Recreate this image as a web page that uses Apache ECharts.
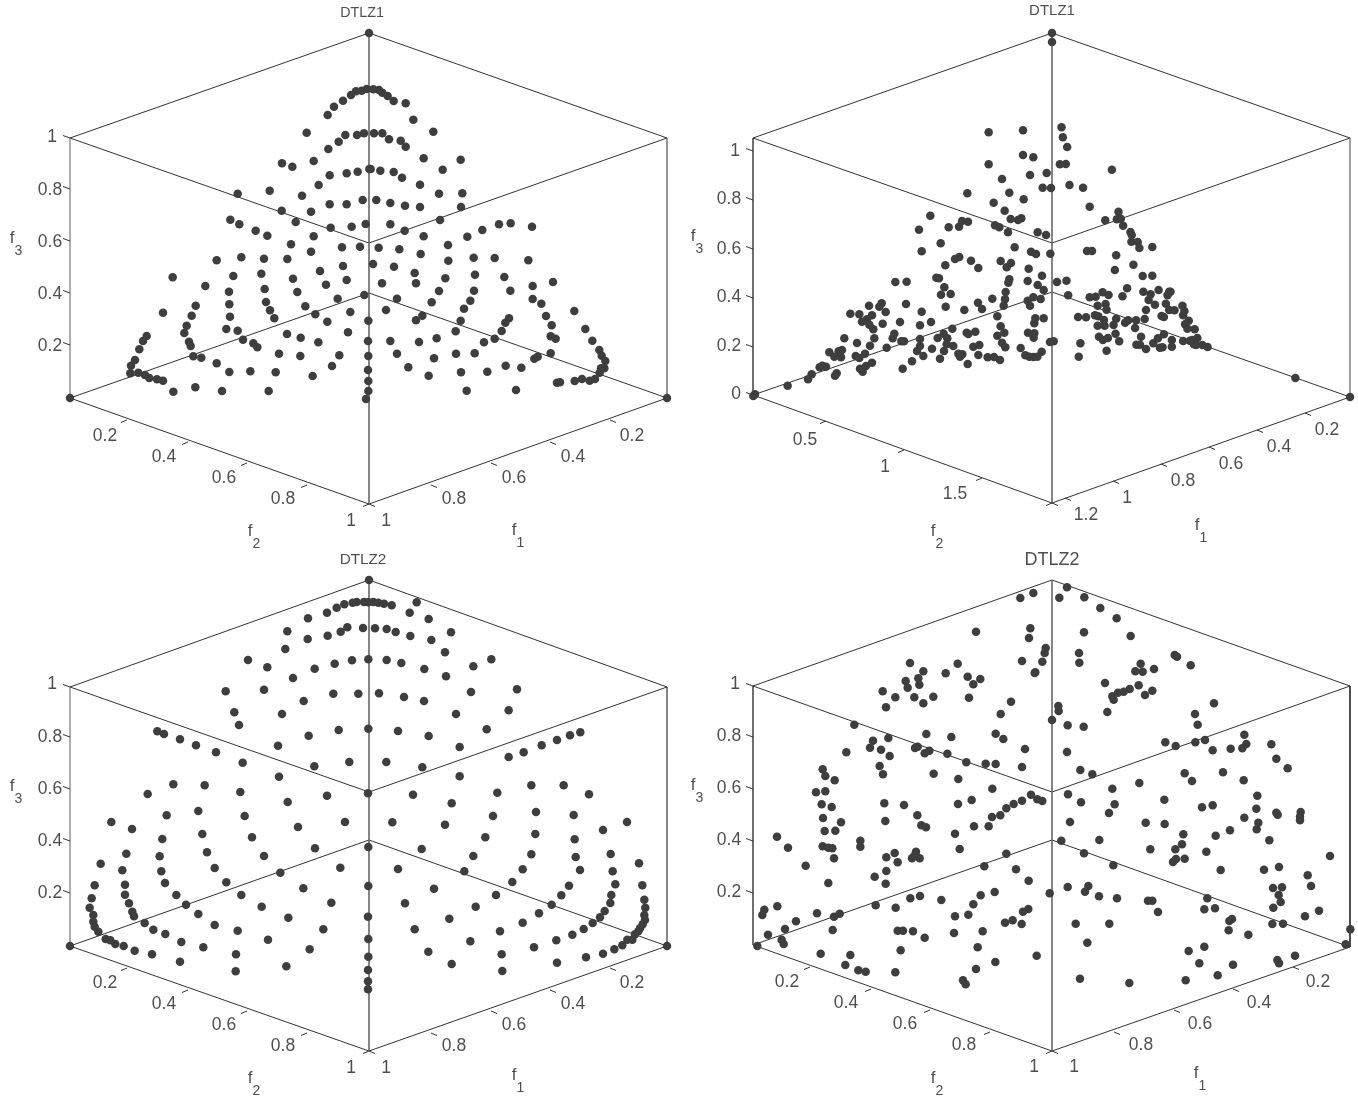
<!DOCTYPE html>
<html><head><meta charset="utf-8">
<style>html,body{margin:0;padding:0;background:#fff}#c{width:1358px;height:1098px}</style>
<script src="https://cdn.jsdelivr.net/npm/echarts@6/dist/echarts.min.js"></script>
</head><body><div id="c"></div>
<script>
// Projected point positions, in each half-panel's own plot units.
const dtlz1A_left=[[803,135],[822,110],[849,92],[873,75],[888,64],[905,62],[920,57],[740,188],[805,237],[836,215],[856,195],[891,195],[912,190],[666,280],[697,290],[761,273],[776,345],[809,316],[860,310],[893,305],[928,297],[533,371],[629,362],[726,377],[809,403],[860,403],[908,390],[665,422],[753,425],[707,456],[812,473],[875,470],[917,462],[511,449],[538,463],[587,482],[622,497],[761,499],[693,523],[846,532],[900,530],[470,571],[544,562],[612,566],[682,567],[753,545],[520,618],[604,611],[699,626],[780,603],[849,588],[338,622],[436,648],[507,665],[614,657],[712,666],[798,644],[860,630],[407,707],[508,703],[618,696],[736,709],[833,686],[913,675],[395,737],[510,740],[630,721],[643,745],[766,733],[871,726],[309,728],[380,767],[499,777],[533,782],[802,755],[925,752],[373,789],[681,792],[722,803],[864,787],[249,813],[260,798],[238,838],[387,815],[392,828],[549,809],[580,820],[592,832],[775,817],[924,813],[225,870],[213,887],[400,859],[424,863],[657,851],[721,858],[838,856],[925,858],[211,910],[235,908],[255,915],[268,924],[291,928],[309,932],[470,880],[508,906],[571,904],[647,907],[758,918],[816,888],[924,900],[340,965],[406,952],[486,963],[626,963],[925,933],[925,963],[918,987]];
const dtlz1A_right=[[25,58],[42,60],[52,68],[68,78],[86,93],[122,100],[145,149],[205,185],[27,190],[52,190],[72,208],[107,212],[122,230],[176,265],[287,269],[17,297],[46,302],[86,306],[111,323],[165,344],[233,299],[222,371],[292,370],[34,390],[76,399],[120,407],[165,411],[288,411],[225,450],[76,463],[119,482],[176,499],[307,500],[352,480],[402,463],[437,460],[501,470],[41,533],[103,538],[167,552],[249,525],[250,572],[326,563],[389,564],[490,571],[24,582],[87,590],[149,609],[241,625],[330,614],[418,621],[564,636],[51,640],[153,640],[222,663],[327,662],[436,662],[503,648],[96,686],[200,697],[316,692],[503,687],[529,701],[63,720],[172,737],[153,751],[297,716],[287,752],[432,745],[421,758],[543,738],[628,723],[272,784],[410,783],[560,766],[661,777],[76,813],[162,816],[215,805],[357,817],[389,806],[557,799],[572,806],[682,812],[96,851],[207,865],[273,851],[329,850],[508,866],[518,860],[557,850],[703,840],[710,857],[130,892],[191,917],[288,907],[367,905],[422,887],[469,893],[721,873],[718,895],[708,895],[704,908],[305,962],[453,960],[576,938],[585,937],[629,933],[651,927],[674,932],[690,927]];
const dtlz1B_left=[[746,67],[849,61],[849,135],[880,142],[746,163],[786,207],[870,195],[920,189],[908,233],[933,234],[682,250],[808,248],[851,268],[761,278],[794,302],[571,317],[812,327],[834,330],[844,325],[666,333],[684,335],[657,350],[626,352],[537,359],[765,346],[778,352],[804,367],[893,367],[918,375],[602,400],[545,424],[824,412],[873,425],[888,432],[931,431],[658,441],[645,447],[693,452],[782,453],[813,459],[800,472],[616,466],[715,474],[866,476],[589,503],[597,505],[906,497],[808,508],[863,513],[805,518],[466,516],[500,515],[893,525],[951,516],[613,532],[911,540],[603,554],[632,552],[797,546],[795,568],[757,566],[880,562],[902,567],[863,572],[870,587],[425,580],[387,587],[418,590],[498,582],[714,578],[726,597],[617,590],[791,587],[673,600],[331,611],[358,613],[437,606],[396,616],[545,605],[381,628],[366,635],[772,619],[886,625],[911,625],[388,644],[428,641],[480,636],[573,636],[540,646],[883,640],[782,649],[637,656],[400,658],[463,671],[611,671],[680,668],[706,665],[685,672],[793,668],[772,677],[864,668],[883,670],[881,683],[313,685],[403,685],[458,685],[484,694],[492,694],[540,687],[593,684],[622,685],[351,699],[390,707],[620,703],[786,698],[930,696],[941,694],[440,713],[540,708],[640,708],[700,710],[718,705],[796,712],[842,714],[576,716],[612,723],[268,727],[306,720],[296,724],[531,723],[905,725],[347,738],[375,731],[283,740],[303,742],[358,744],[550,738],[655,731],[667,733],[660,740],[715,735],[743,742],[762,741],[780,750],[856,736],[868,740],[880,741],[892,740],[600,746],[396,758],[247,767],[258,770],[239,772],[378,768],[360,776],[368,785],[488,776],[516,754],[683,762],[290,790],[285,797],[215,793],[204,808],[143,827],[45,853],[40,858]];
const dtlz1B_right=[[65,52],[69,82],[82,111],[60,163],[78,162],[217,179],[89,225],[130,233],[150,290],[237,305],[197,331],[232,328],[244,326],[251,347],[273,366],[277,375],[276,395],[295,396],[300,414],[339,411],[142,423],[157,423],[230,436],[282,464],[226,480],[310,498],[339,497],[80,512],[263,535],[312,545],[358,540],[390,545],[394,545],[334,553],[249,559],[85,556],[150,562],[168,560],[189,547],[207,555],[385,556],[328,570],[347,584],[380,581],[174,587],[198,582],[201,599],[390,600],[406,601],[430,587],[436,603],[320,600],[432,616],[115,621],[139,622],[166,616],[176,619],[193,630],[230,626],[257,638],[266,631],[290,631],[316,627],[367,618],[374,621],[449,632],[438,643],[174,647],[195,647],[222,645],[287,654],[445,656],[467,658],[228,671],[178,680],[205,684],[190,690],[305,680],[374,673],[356,685],[475,684],[398,690],[432,693],[452,692],[460,690],[239,694],[122,700],[342,700],[291,704],[302,704],[465,703],[471,705],[490,705],[506,711],[398,710],[320,717],[362,713],[370,712],[201,722],[117,740],[771,804]];
const dtlz2C_left=[[744,85],[801,68],[830,53],[853,43],[878,38],[890,36],[912,36],[925,37],[682,124],[743,147],[803,137],[842,125],[862,112],[909,114],[676,177],[564,210],[622,232],[764,236],[824,221],[876,211],[925,208],[699,264],[497,304],[612,299],[731,333],[820,311],[895,311],[523,367],[537,405],[666,372],[746,437],[836,420],[925,416],[292,424],[312,432],[360,448],[408,466],[468,487],[548,518],[654,467],[763,529],[868,516],[657,560],[340,583],[434,586],[263,612],[541,606],[801,617],[924,610],[683,636],[415,663],[320,676],[554,678],[154,696],[216,717],[855,696],[714,711],[427,732],[307,747],[576,742],[925,771],[765,775],[199,791],[441,787],[299,799],[612,798],[122,821],[187,841],[304,844],[464,834],[661,848],[841,833],[104,886],[195,884],[315,879],[499,877],[925,888],[730,895],[95,925],[195,914],[349,915],[544,915],[207,940],[378,944],[814,938],[605,950],[89,953],[217,965],[222,979],[100,975],[415,972],[924,980],[685,983],[100,995],[254,999],[464,1005],[104,1010],[115,1025],[280,1019],[316,1032],[533,1022],[790,1018],[137,1047],[151,1051],[166,1062],[191,1068],[364,1056],[624,1049],[925,1047],[224,1082],[276,1093],[430,1072],[528,1093],[749,1078],[925,1100],[360,1115],[527,1144],[679,1129],[924,1140],[924,1174],[924,1198]];
const dtlz2C_right=[[25,36],[40,38],[57,41],[80,46],[155,37],[134,68],[191,87],[30,115],[65,117],[92,126],[136,138],[199,150],[258,127],[65,210],[109,219],[178,237],[240,187],[243,259],[325,229],[379,208],[42,310],[117,321],[177,333],[318,306],[456,298],[273,372],[431,361],[99,423],[191,438],[284,471],[365,418],[64,516],[172,532],[431,501],[476,487],[530,466],[576,450],[615,436],[646,427],[284,559],[144,614],[397,608],[499,586],[596,586],[672,613],[260,640],[82,697],[240,704],[384,678],[513,666],[626,675],[786,696],[714,720],[361,742],[511,732],[629,748],[170,777],[325,798],[499,793],[632,801],[737,792],[99,837],[298,844],[473,838],[645,840],[743,844],[822,820],[207,896],[442,876],[612,887],[751,883],[832,886],[393,915],[589,916],[739,915],[838,929],[120,940],[332,950],[560,944],[736,939],[841,953],[253,986],[522,970],[719,963],[838,975],[473,998],[705,982],[683,999],[840,990],[149,1018],[405,1024],[656,1017],[622,1034],[833,1003],[825,1015],[820,1024],[810,1033],[316,1054],[574,1051],[787,1049],[802,1049],[772,1066],[507,1072],[748,1078],[190,1085],[410,1093],[714,1091],[663,1102],[576,1118],[260,1122],[412,1143]];
const dtlz2D_left=[[826,39],[865,24],[693,140],[856,130],[852,159],[902,189],[899,204],[892,230],[831,228],[869,264],[871,262],[495,234],[638,236],[535,259],[602,265],[668,275],[520,280],[482,288],[523,299],[706,282],[685,298],[488,308],[413,319],[451,337],[508,337],[565,335],[672,338],[535,355],[423,367],[798,350],[767,387],[921,405],[328,419],[544,447],[752,446],[619,456],[775,462],[430,459],[384,467],[375,488],[408,494],[304,502],[518,485],[510,489],[553,497],[539,505],[607,506],[840,492],[434,513],[664,532],[722,536],[752,537],[831,546],[404,543],[233,553],[241,573],[269,586],[414,568],[566,566],[640,582],[742,611],[213,622],[241,619],[858,629],[831,647],[877,643],[892,648],[680,645],[230,658],[260,666],[418,655],[477,660],[639,657],[806,657],[784,670],[766,691],[741,696],[234,699],[517,691],[288,712],[421,708],[731,724],[687,724],[529,721],[543,727],[271,737],[239,738],[630,746],[96,755],[346,767],[346,785],[233,784],[250,788],[262,790],[129,788],[644,792],[784,806],[449,804],[513,800],[424,817],[508,812],[501,820],[524,820],[458,832],[267,820],[182,842],[718,844],[813,853],[424,858],[389,875],[851,887],[250,894],[422,896],[749,921],[914,925],[707,931],[496,940],[525,933],[589,945],[685,958],[97,964],[58,974],[52,990],[392,961],[452,968],[850,972],[834,980],[670,989],[630,994],[216,985],[284,986],[267,995],[153,1009],[120,1032],[263,1035],[780,1013],[803,1006],[830,1017],[458,1037],[474,1037],[504,1039],[627,1044],[713,1039],[69,1049],[110,1064],[116,1077],[539,1058],[37,1083],[698,1087],[467,1096],[227,1106],[316,1110],[875,1112],[301,1140],[751,1131],[693,1152],[340,1156],[362,1160],[451,1162],[654,1186],[662,1198]];
const dtlz2D_right=[[66,7],[43,38],[118,37],[166,69],[215,100],[117,142],[257,153],[102,204],[103,233],[389,210],[396,215],[287,236],[437,241],[271,259],[293,260],[327,252],[180,294],[281,301],[254,312],[236,320],[219,323],[202,334],[206,344],[322,317],[300,330],[507,355],[40,363],[41,378],[187,381],[450,387],[68,421],[116,425],[458,419],[598,449],[361,472],[451,472],[480,465],[392,483],[604,477],[679,478],[557,491],[592,490],[503,496],[66,501],[694,521],[728,550],[106,555],[419,565],[534,562],[142,568],[441,588],[596,586],[283,594],[202,611],[69,628],[637,632],[108,652],[209,658],[358,644],[471,667],[503,661],[634,671],[192,684],[694,683],[698,689],[767,681],[765,695],[765,706],[598,698],[75,711],[302,713],[359,717],[640,713],[635,733],[555,736],[415,748],[512,752],[49,767],[163,765],[673,766],[411,778],[391,793],[316,793],[484,800],[117,805],[855,813],[393,822],[419,821],[384,831],[205,841],[702,846],[657,854],[527,855],[788,871],[130,903],[68,906],[120,920],[684,909],[711,907],[798,903],[701,930],[707,951],[162,934],[216,940],[487,940],[309,947],[322,947],[478,973],[510,970],[685,968],[339,981],[822,977],[780,994],[561,1002],[553,1008],[92,1016],[193,1016],[682,1017],[714,1016],[551,1036],[610,1049],[916,1033],[127,1073],[902,1078],[478,1085],[431,1098],[750,1112],[463,1135],[697,1125],[702,1135],[564,1139],[518,1171],[105,1181],[253,1194],[422,1186]];
const cornerPoints=[[369,33],[70,398],[667,398],[1052,33],[1052,42],[1350,397],[369,580],[70,946],[667,946]];

// Box corners of each panel: apex, left-up, right-up, middle, left-low, right-low, floor-back, front-bottom.
const boxA=[[369,33],[70,138],[667,138],[369,243],[70,398],[667,398],[369,293],[369,504]];
const boxB=[[1052,33],[753,138],[1350,138],[1052,243],[753,395],[1350,397],[1052,292],[1052,503]];
const boxC=[[369,580],[70,687],[667,687],[369,792],[70,946],[667,946],[369,840],[369,1051]];
const boxD=[[1052,580],[753,686],[1350,686],[1052,792],[753,945],[1350,947],[1052,840],[1052,1051]];

// Tick positions on the three visible axes.
const f3TicksA=[138,189,241,293,345], f3TicksB=[151,200,249,298,347,395], f3TicksC=[687,737,789,841,893], f3TicksD=[686,737,789,841,893];
const f2TicksA=[[127,420],[188,442],[247,463],[307,485],[369,504]];
const f1TicksA=[[369,504],[431,485],[491,463],[550,442],[610,420]];
const f2TicksB=[[826,421],[904,450],[982,478],[1052,503]];
const f1TicksB=[[1052,503],[1065,498],[1113,481],[1161,464],[1209,447],[1257,430],[1305,413]];
const f2TicksC=[[127,968],[188,990],[247,1011],[307,1033],[369,1051]];
const f1TicksC=[[369,1051],[431,1033],[491,1011],[550,990],[610,968]];
const f2TicksD=[[810,967],[871,989],[930,1010],[990,1032],[1052,1051]];
const f1TicksD=[[1052,1051],[1114,1032],[1174,1010],[1233,989],[1293,967]];

const tickLabels=[
 ['1',52,136],['0.8',50,189],['0.6',50,241],['0.4',50,293],['0.2',50,345],
 ['0.2',105,435],['0.4',164,456],['0.6',224,477],['0.8',283,498],['1',351,520],
 ['1',386,520],['0.8',454,498],['0.6',514,477],['0.4',573,456],['0.2',632,435],
 ['1',735,150],['0.8',729,198],['0.6',729,248],['0.4',729,296],['0.2',729,345],['0',736,393],
 ['0.5',805,439],['1',885,466],['1.5',955,493],
 ['1.2',1086,514],['1',1127,497],['0.8',1183,480],['0.6',1231,463],['0.4',1279,446],['0.2',1327,429],
 ['1',52,683],['0.8',50,736],['0.6',50,788],['0.4',50,840],['0.2',50,892],
 ['0.2',105,982],['0.4',164,1003],['0.6',224,1024],['0.8',283,1045],['1',351,1067],
 ['1',386,1067],['0.8',454,1045],['0.6',514,1024],['0.4',573,1003],['0.2',632,982],
 ['1',735,683],['0.8',729,735],['0.6',729,787],['0.4',729,839],['0.2',729,891],
 ['0.2',787,981],['0.4',846,1002],['0.6',905,1023],['0.8',964,1044],['1',1034,1066],
 ['1',1074,1066],['0.8',1141,1044],['0.6',1200,1023],['0.4',1259,1002],['0.2',1318,981]
];
const axisNames=[
 ['3',16,243],['2',254,536],['1',518,535],
 ['3',697,241],['2',937,536],['1',1201,530],
 ['3',16,791],['2',254,1083],['1',518,1080],
 ['3',697,790],['2',937,1083],['1',1200,1078]
];
const titles=[['DTLZ1',362,13,14.3],['DTLZ1',1052,11,15],['DTLZ2',363,560,15.3],['DTLZ2',1052,560,18]];

const UNITS=3; // half-panel plot units per screen pixel
const halves=[
 [dtlz1A_left,60,70,310,340],[dtlz1A_right,365,70,310,340],
 [dtlz1B_left,740,110,320,300],[dtlz1B_right,1040,110,320,300],
 [dtlz2C_left,60,590,310,410],[dtlz2C_right,365,590,310,410],
 [dtlz2D_left,745,585,310,410],[dtlz2D_right,1045,585,310,410]
];
const grid=[{left:0,top:0,width:1358,height:1098,show:false}];
const xAxis=[{type:'value',gridIndex:0,min:0,max:1358,show:false}];
const yAxis=[{type:'value',gridIndex:0,min:0,max:1098,inverse:true,show:false}];
const series=[];
const seg=(pts,color,width)=>series.push({type:'line',xAxisIndex:0,yAxisIndex:0,data:pts,symbol:'none',silent:true,animation:false,clip:false,z:1,lineStyle:{color:color,width:width}});

[[boxA,'#8a8a8a','#666',1.4],[boxB,'#333','#777',1.4],[boxC,'#8a8a8a','#555',1.4],[boxD,'#333','#222',1.6]].forEach(([b,sideL,sideR,w])=>{
 const [T,LU,RU,M,LL,RL,F,B]=b;
 seg([T,LU],'#333',1); seg([T,RU],'#333',1);
 seg([LU,M],'#333',1); seg([M,RU],'#333',1);
 seg([LL,F],'#333',1); seg([F,RL],'#333',1);
 seg([LL,B],'#333',1); seg([B,RL],'#333',1);
 seg([LU,LL],sideL,1.4); seg([RU,RL],sideR,w);
 seg([T,B],'#666',1.6);
});
[[f3TicksA,70],[f3TicksB,753],[f3TicksC,70],[f3TicksD,753]].forEach(([ys,x])=>ys.forEach(y=>seg([[x-7,y-2.5],[x,y]],'#333',1)));
[f2TicksA,f2TicksB,f2TicksC,f2TicksD].forEach(t=>t.forEach(([x,y])=>seg([[x-6,y+2.5],[x,y]],'#333',1)));
[f1TicksA,f1TicksB,f1TicksC,f1TicksD].forEach(t=>t.forEach(([x,y])=>seg([[x+6,y+2.5],[x,y]],'#333',1)));

const dot={type:'scatter',symbolSize:8.5,silent:true,animation:false,clip:false,z:5,itemStyle:{color:'#3e3e3e',opacity:1}};
series.push(Object.assign({},dot,{xAxisIndex:0,yAxisIndex:0,data:cornerPoints}));
halves.forEach(([pts,l,t,w,h],i)=>{
 grid.push({left:l,top:t,width:w,height:h,show:false});
 xAxis.push({type:'value',gridIndex:i+1,min:0,max:w*UNITS,show:false});
 yAxis.push({type:'value',gridIndex:i+1,min:0,max:h*UNITS,inverse:true,show:false});
 series.push(Object.assign({},dot,{xAxisIndex:i+1,yAxisIndex:i+1,data:pts}));
});
const FONT='"Liberation Sans",Arial,sans-serif';
series.push({type:'scatter',xAxisIndex:0,yAxisIndex:0,symbolSize:1,silent:true,animation:false,z:6,
 itemStyle:{color:'transparent'},
 data:tickLabels.map(([s,x,y])=>({value:[x,y],name:s})),
 label:{show:true,position:'inside',offset:[0,1.5],formatter:p=>p.name,color:'#222',fontFamily:FONT,fontSize:17.5}});
series.push({type:'scatter',xAxisIndex:0,yAxisIndex:0,symbolSize:1,silent:true,animation:false,z:6,
 itemStyle:{color:'transparent'},
 data:axisNames.map(([s,x,y])=>({value:[x,y],name:s})),
 label:{show:true,position:'inside',offset:[0,1],formatter:p=>'{f|f}{s|'+p.name+'}',color:'#222',
  rich:{f:{fontFamily:FONT,fontSize:17,color:'#222',lineHeight:28,verticalAlign:'top'},s:{fontFamily:FONT,fontSize:14,color:'#222',lineHeight:28,verticalAlign:'bottom'}}}});
series.push({type:'scatter',xAxisIndex:0,yAxisIndex:0,symbolSize:1,silent:true,animation:false,z:6,
 itemStyle:{color:'transparent'},
 data:titles.map(([s,x,y,fs])=>({value:[x,y],name:s,label:{fontSize:fs}})),
 label:{show:true,position:'inside',formatter:p=>p.name,color:'#222',fontFamily:FONT}});

const chart=echarts.init(document.getElementById('c'),null,{renderer:'canvas'});
chart.setOption({backgroundColor:'#fff',animation:false,grid,xAxis,yAxis,series,tooltip:{show:false},legend:{show:false}});
</script></body></html>
